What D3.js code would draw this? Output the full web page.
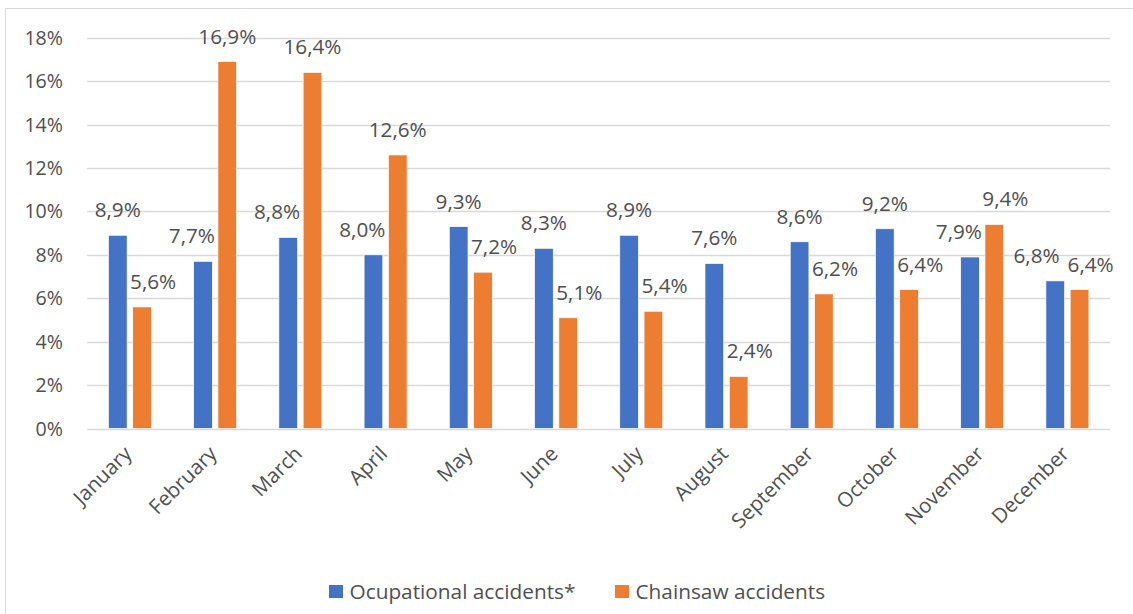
<!DOCTYPE html>
<html>
<head>
<meta charset="utf-8">
<script src="https://cdn.jsdelivr.net/npm/d3@7"></script>
<style>
  body { margin: 0; background: #fff; }
  svg text { font-family: "Open Sans", "Noto Sans", sans-serif; fill: #505050; }
</style>
</head>
<body>
<div id="chart"></div>
<script>
var months = ["January", "February", "March", "April", "May", "June", "July",
  "August", "September", "October", "November", "December"];
var seriesNames = ["Ocupational accidents*", "Chainsaw accidents"];
var occupational = [8.9, 7.7, 8.8, 8.0, 9.3, 8.3, 8.9, 7.6, 8.6, 9.2, 7.9, 6.8];
var chainsaw = [5.6, 16.9, 16.4, 12.6, 7.2, 5.1, 5.4, 2.4, 6.2, 6.4, 9.4, 6.4];
var yTicks = [0, 2, 4, 6, 8, 10, 12, 14, 16, 18];
var colors = ["#4472c4", "#ed7d31"];

var width = 1133, height = 614;
var plot = { left: 87.3, right: 1110, top: 37.7, bottom: 428.5 };

var svg = d3.select("#chart").append("svg")
  .attr("width", width)
  .attr("height", height);

// chart area border (only top and left show in the frame)
svg.append("rect")
  .attr("x", 5.5).attr("y", 8.5)
  .attr("width", width + 20).attr("height", height + 20)
  .attr("fill", "#fff")
  .attr("stroke", "#d9d9d9");

var x0 = d3.scaleBand().domain(months).range([plot.left, plot.right]);
var x1 = d3.scaleBand().domain(seriesNames).range([-21.5, 21.5]).paddingInner(0.23);
var y = d3.scaleLinear().domain([0, 18]).range([plot.bottom, plot.top]);

// gridlines
svg.append("g").selectAll("line")
  .data(yTicks)
  .join("line")
  .attr("x1", plot.left).attr("x2", plot.right)
  .attr("y1", function(d) { return Math.round(y(d)) + 0.5; })
  .attr("y2", function(d) { return Math.round(y(d)) + 0.5; })
  .attr("stroke", "#d9d9d9")
  .attr("stroke-width", 1.5);

// y tick labels
svg.append("g").selectAll("text")
  .data(yTicks)
  .join("text")
  .attr("x", 63)
  .attr("y", function(d) { return y(d); })
  .attr("dy", "0.36em")
  .attr("text-anchor", "end")
  .style("font-size", "19.6px")
  .text(function(d) { return d + "%"; });

var rows = months.map(function(m, i) {
  return { month: m, values: [occupational[i], chainsaw[i]] };
});

var groups = svg.append("g").selectAll("g")
  .data(rows)
  .join("g")
  .attr("transform", function(d) { return "translate(" + (x0(d.month) + x0.bandwidth() / 2) + ",0)"; });

groups.selectAll("rect")
  .data(function(d) { return d.values.map(function(v, k) { return { name: seriesNames[k], value: v, k: k }; }); })
  .join("rect")
  .attr("x", function(d) { return x1(d.name); })
  .attr("width", x1.bandwidth())
  .attr("y", function(d) { return y(d.value); })
  .attr("height", function(d) { return plot.bottom - y(d.value); })
  .attr("fill", function(d) { return colors[d.k]; })
  .attr("stroke", "#fff")
  .attr("stroke-width", 0.7);

// data labels, nudged sideways like Excel does when they hit the other bar
var fmt = function(v) { return v.toFixed(1).replace(".", ",") + "%"; };
var labelLayer = svg.append("g");

rows.forEach(function(row) {
  var cx = x0(row.month) + x0.bandwidth() / 2;
  var boxes = row.values.map(function(v, k) {
    var t = labelLayer.append("text")
      .style("font-size", "20.7px")
      .attr("text-anchor", "middle")
      .attr("y", y(v) - 18)
      .text(fmt(v));
    var w = t.node().getComputedTextLength();
    var bx = cx + x1(seriesNames[k]);
    return { t: t, w: w, mid: bx + x1.bandwidth() / 2, barL: bx, barR: bx + x1.bandwidth(),
      bottom: y(v) - 16, top: y(v) - 34 };
  });
  var a = boxes[0], b = boxes[1];
  // blue label over the orange bar
  if (b.top - 16 < a.bottom && a.mid + a.w / 2 > b.barL) a.mid = b.barL - 3 - a.w / 2;
  // orange label over the blue bar
  if (a.top - 16 < b.bottom && b.mid - b.w / 2 < a.barR) b.mid = a.barR + 3 + b.w / 2;
  // labels over each other
  if (a.bottom > b.top && b.bottom > a.top && a.mid + a.w / 2 > b.mid - b.w / 2 - 8) {
    a.mid = b.mid - b.w / 2 - 8 - a.w / 2;
  }
  boxes.forEach(function(bx) { bx.t.attr("x", bx.mid); });
});

// x labels
svg.append("g").selectAll("text")
  .data(months)
  .join("text")
  .attr("transform", function(d) {
    return "translate(" + (x0(d) + x0.bandwidth() / 2 + 3) + ",455) rotate(-45)";
  })
  .attr("text-anchor", "end")
  .style("font-size", "20.5px")
  .text(function(d) { return d; });

// legend
var legend = svg.append("g").attr("transform", "translate(329,591.5)");
var legendX = [0, 286];
seriesNames.forEach(function(name, k) {
  var g = legend.append("g").attr("transform", "translate(" + legendX[k] + ",0)");
  g.append("rect").attr("x", 0).attr("y", -6.5).attr("width", 14).attr("height", 13)
    .attr("fill", colors[k]);
  g.append("text").attr("x", 20.5).attr("dy", "0.36em")
    .style("font-size", "20.8px")
    .text(name);
});
</script>
</body>
</html>
